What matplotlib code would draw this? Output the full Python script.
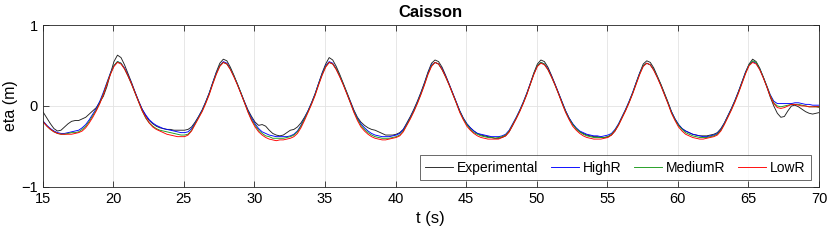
import numpy as np
import matplotlib
matplotlib.use("Agg")
import matplotlib.pyplot as plt

plt.rcParams['font.family'] = ['Liberation Sans', 'DejaVu Sans']

# time base: samples every 0.25 s starting at 14.8 s (223 samples)
t_start = 14.8
t_step = 0.25

# Experimental (black)
experimental = [
    -0.03, -0.08, -0.15, -0.22, -0.28, -0.31, -0.30, -0.26, -0.22, -0.19, -0.18,
    -0.18, -0.16, -0.14, -0.10, -0.06, -0.02, 0.05, 0.12, 0.24, 0.40, 0.55,
    # peak 1
    0.63, 0.60, 0.51, 0.40, 0.29, 0.17, 0.06, -0.04, -0.12, -0.18, -0.22, -0.25, -0.27, -0.28, -0.29,
    -0.29, -0.30, -0.30, -0.30, -0.30, -0.29, -0.26, -0.20, -0.13, -0.05, 0.05, 0.16, 0.29, 0.42, 0.53,
    # peak 2
    0.58, 0.56, 0.48, 0.38, 0.27, 0.16, 0.05, -0.05, -0.13, -0.20, -0.24, -0.23, -0.25, -0.30, -0.34,
    -0.36, -0.37, -0.36, -0.33, -0.30, -0.29, -0.26, -0.21, -0.14, -0.06, 0.04, 0.15, 0.28, 0.41, 0.52,
    # peak 3
    0.60, 0.57, 0.49, 0.39, 0.28, 0.17, 0.06, -0.05, -0.14, -0.20, -0.24, -0.27, -0.29, -0.30, -0.32,
    -0.34, -0.36, -0.36, -0.36, -0.35, -0.33, -0.29, -0.21, -0.13, -0.04, 0.06, 0.17, 0.29, 0.42, 0.53,
    # peak 4
    0.57, 0.55, 0.48, 0.38, 0.27, 0.16, 0.05, -0.06, -0.15, -0.22, -0.27, -0.31, -0.34, -0.36, -0.37,
    -0.38, -0.39, -0.40, -0.40, -0.39, -0.37, -0.32, -0.24, -0.15, -0.06, 0.04, 0.15, 0.28, 0.41, 0.52,
    # peak 5
    0.57, 0.55, 0.48, 0.38, 0.27, 0.16, 0.05, -0.06, -0.15, -0.22, -0.28, -0.32, -0.34, -0.36, -0.37,
    -0.38, -0.38, -0.39, -0.39, -0.38, -0.36, -0.31, -0.23, -0.14, -0.05, 0.05, 0.16, 0.29, 0.41, 0.52,
    # peak 6
    0.56, 0.54, 0.47, 0.37, 0.27, 0.16, 0.05, -0.07, -0.16, -0.23, -0.28, -0.31, -0.33, -0.35, -0.36,
    -0.37, -0.37, -0.37, -0.36, -0.35, -0.33, -0.28, -0.21, -0.12, -0.03, 0.07, 0.18, 0.30, 0.42, 0.52,
    # peak 7 and tail
    0.58, 0.55, 0.47, 0.36, 0.24, 0.11, 0.00, -0.09, -0.14, -0.13, -0.06, 0.00, 0.01, -0.01, -0.04,
    -0.07, -0.09, -0.10, -0.09, -0.08, -0.07,
]

# HighR (blue)
high_r = [
    -0.15, -0.19, -0.24, -0.28, -0.31, -0.33, -0.34, -0.34, -0.33, -0.32, -0.31,
    -0.30, -0.27, -0.23, -0.17, -0.10, -0.03, 0.06, 0.17, 0.29, 0.41, 0.50,
    0.55, 0.53, 0.47, 0.38, 0.28, 0.17, 0.06, -0.04, -0.11, -0.17, -0.21, -0.24, -0.26, -0.28, -0.29,
    -0.30, -0.31, -0.32, -0.33, -0.33, -0.32, -0.28, -0.21, -0.13, -0.05, 0.05, 0.16, 0.29, 0.41, 0.50,
    0.55, 0.53, 0.46, 0.37, 0.27, 0.16, 0.05, -0.06, -0.15, -0.22, -0.28, -0.32, -0.34, -0.36, -0.37,
    -0.38, -0.38, -0.38, -0.38, -0.37, -0.35, -0.31, -0.24, -0.15, -0.06, 0.04, 0.15, 0.28, 0.40, 0.50,
    0.55, 0.53, 0.46, 0.37, 0.27, 0.16, 0.05, -0.06, -0.15, -0.22, -0.27, -0.31, -0.34, -0.36, -0.37,
    -0.38, -0.38, -0.38, -0.37, -0.36, -0.34, -0.29, -0.22, -0.14, -0.05, 0.05, 0.16, 0.28, 0.41, 0.51,
    0.54, 0.52, 0.46, 0.37, 0.27, 0.16, 0.05, -0.06, -0.15, -0.22, -0.27, -0.31, -0.34, -0.35, -0.36,
    -0.37, -0.38, -0.38, -0.38, -0.37, -0.35, -0.30, -0.22, -0.14, -0.05, 0.05, 0.16, 0.28, 0.40, 0.50,
    0.54, 0.52, 0.46, 0.37, 0.27, 0.16, 0.05, -0.06, -0.15, -0.22, -0.27, -0.31, -0.33, -0.35, -0.36,
    -0.37, -0.37, -0.38, -0.37, -0.36, -0.34, -0.29, -0.22, -0.13, -0.04, 0.06, 0.17, 0.29, 0.41, 0.50,
    0.53, 0.51, 0.45, 0.36, 0.26, 0.15, 0.04, -0.07, -0.16, -0.23, -0.28, -0.31, -0.33, -0.35, -0.36,
    -0.37, -0.38, -0.38, -0.37, -0.36, -0.34, -0.29, -0.21, -0.12, -0.03, 0.07, 0.18, 0.30, 0.42, 0.51,
    0.55, 0.53, 0.46, 0.36, 0.25, 0.14, 0.06, 0.03, 0.03, 0.03, 0.03, 0.03, 0.04, 0.04, 0.03,
    0.02, 0.02, 0.01, 0.01, 0.01, 0.01,
]

# MediumR (green)
medium_r = [
    -0.16, -0.20, -0.25, -0.29, -0.32, -0.34, -0.35, -0.35, -0.34, -0.33, -0.33,
    -0.32, -0.29, -0.25, -0.19, -0.12, -0.05, 0.04, 0.15, 0.28, 0.40, 0.50,
    0.55, 0.53, 0.46, 0.37, 0.27, 0.16, 0.05, -0.06, -0.15, -0.21, -0.25, -0.28, -0.30, -0.31, -0.32,
    -0.33, -0.34, -0.35, -0.36, -0.36, -0.35, -0.30, -0.22, -0.14, -0.06, 0.04, 0.15, 0.28, 0.40, 0.50,
    0.54, 0.52, 0.46, 0.37, 0.27, 0.16, 0.04, -0.07, -0.17, -0.24, -0.30, -0.34, -0.37, -0.38, -0.40,
    -0.40, -0.40, -0.40, -0.39, -0.38, -0.36, -0.32, -0.25, -0.16, -0.07, 0.03, 0.14, 0.27, 0.39, 0.49,
    0.54, 0.52, 0.46, 0.37, 0.27, 0.16, 0.04, -0.07, -0.16, -0.24, -0.29, -0.33, -0.36, -0.38, -0.39,
    -0.40, -0.40, -0.40, -0.39, -0.38, -0.36, -0.31, -0.23, -0.15, -0.06, 0.04, 0.15, 0.27, 0.40, 0.50,
    0.54, 0.52, 0.45, 0.36, 0.26, 0.15, 0.04, -0.07, -0.16, -0.23, -0.29, -0.33, -0.35, -0.37, -0.38,
    -0.39, -0.39, -0.40, -0.39, -0.38, -0.36, -0.31, -0.23, -0.15, -0.06, 0.04, 0.15, 0.27, 0.40, 0.50,
    0.54, 0.52, 0.45, 0.36, 0.26, 0.15, 0.04, -0.07, -0.16, -0.23, -0.28, -0.32, -0.35, -0.37, -0.38,
    -0.39, -0.39, -0.39, -0.39, -0.38, -0.35, -0.30, -0.23, -0.14, -0.05, 0.05, 0.16, 0.28, 0.40, 0.50,
    0.53, 0.51, 0.45, 0.36, 0.26, 0.15, 0.04, -0.08, -0.17, -0.24, -0.29, -0.33, -0.35, -0.37, -0.38,
    -0.39, -0.39, -0.39, -0.38, -0.37, -0.35, -0.30, -0.22, -0.13, -0.04, 0.06, 0.17, 0.29, 0.41, 0.51,
    0.56, 0.54, 0.46, 0.36, 0.25, 0.13, 0.04, 0.00, -0.01, 0.00, 0.01, 0.02, 0.02, 0.02, 0.01,
    0.00, -0.01, -0.01, -0.01, -0.02, -0.02,
]

# LowR (red)
low_r = [
    -0.16, -0.20, -0.25, -0.29, -0.32, -0.34, -0.35, -0.35, -0.35, -0.35, -0.34,
    -0.33, -0.31, -0.27, -0.21, -0.14, -0.06, 0.03, 0.14, 0.27, 0.39, 0.49,
    0.54, 0.52, 0.46, 0.37, 0.27, 0.16, 0.05, -0.06, -0.14, -0.21, -0.26, -0.29, -0.31, -0.33, -0.35,
    -0.36, -0.37, -0.38, -0.38, -0.38, -0.36, -0.31, -0.23, -0.15, -0.07, 0.03, 0.14, 0.27, 0.39, 0.49,
    0.54, 0.52, 0.45, 0.36, 0.26, 0.15, 0.04, -0.08, -0.18, -0.26, -0.32, -0.36, -0.39, -0.41, -0.42,
    -0.43, -0.42, -0.42, -0.41, -0.40, -0.38, -0.34, -0.27, -0.18, -0.08, 0.02, 0.13, 0.26, 0.38, 0.48,
    0.54, 0.52, 0.45, 0.36, 0.26, 0.15, 0.04, -0.08, -0.18, -0.26, -0.31, -0.35, -0.38, -0.40, -0.41,
    -0.42, -0.42, -0.41, -0.40, -0.39, -0.37, -0.32, -0.24, -0.16, -0.07, 0.03, 0.14, 0.26, 0.39, 0.49,
    0.54, 0.52, 0.45, 0.36, 0.26, 0.15, 0.04, -0.08, -0.17, -0.25, -0.30, -0.34, -0.37, -0.39, -0.40,
    -0.41, -0.41, -0.41, -0.41, -0.39, -0.37, -0.32, -0.24, -0.16, -0.07, 0.03, 0.14, 0.27, 0.39, 0.49,
    0.53, 0.51, 0.45, 0.36, 0.26, 0.15, 0.03, -0.08, -0.17, -0.25, -0.30, -0.34, -0.37, -0.39, -0.40,
    -0.41, -0.41, -0.41, -0.40, -0.39, -0.36, -0.31, -0.24, -0.15, -0.06, 0.04, 0.15, 0.27, 0.39, 0.49,
    0.53, 0.51, 0.44, 0.35, 0.25, 0.14, 0.03, -0.09, -0.18, -0.26, -0.31, -0.35, -0.37, -0.39, -0.40,
    -0.41, -0.41, -0.40, -0.39, -0.38, -0.36, -0.31, -0.23, -0.14, -0.05, 0.05, 0.16, 0.28, 0.40, 0.50,
    0.54, 0.52, 0.45, 0.35, 0.24, 0.12, 0.03, -0.02, -0.03, -0.02, 0.00, 0.02, 0.02, 0.01, 0.00,
    0.00, -0.01, -0.01, -0.01, -0.01, -0.02,
]

labels = ['Experimental', 'HighR', 'MediumR', 'LowR']
colors = ['#222222', '#0000ff', '#1a9a1a', '#ff0000']
x_ticks = list(range(15, 71, 5))
y_ticks = [-1, 0, 1]

t = np.round(t_start + t_step * np.arange(len(experimental)), 2)

fig = plt.figure(figsize=(8.3, 2.4), dpi=100)
ax = fig.add_axes([0.0514, 0.2221, 0.9353, 0.6725])

for series, label, color in zip([experimental, high_r, medium_r, low_r], labels, colors):
    ax.plot(t, series, color=color, lw=0.65, label=label)

ax.set_xlim(15, 70)
ax.set_ylim(-1, 1)
ax.set_xticks(x_ticks)
ax.set_yticks(y_ticks)
ax.grid(True, color='#e3e3e3', lw=0.6)
ax.set_axisbelow(True)
ax.tick_params(direction='in', top=True, right=True, labelsize=10.5,
               color='#262626', length=4, width=0.6)
for s in ax.spines.values():
    s.set_color('#262626')
    s.set_linewidth(0.6)

ax.set_xlabel('t (s)', fontsize=12, labelpad=4)
ax.set_ylabel('eta (m)', fontsize=11.5, labelpad=2)
ax.set_title('Caisson', fontsize=12, fontweight='bold', pad=6)

leg = ax.legend(loc='lower right', bbox_to_anchor=(0.99, 0.04), ncol=4,
                fontsize=10, frameon=True, fancybox=False, borderaxespad=0,
                handlelength=2.0, handletextpad=0.3, columnspacing=0.9,
                borderpad=0.4)
leg.get_frame().set_edgecolor('#262626')
leg.get_frame().set_linewidth(0.6)

fig.savefig('out.png', dpi=100)
